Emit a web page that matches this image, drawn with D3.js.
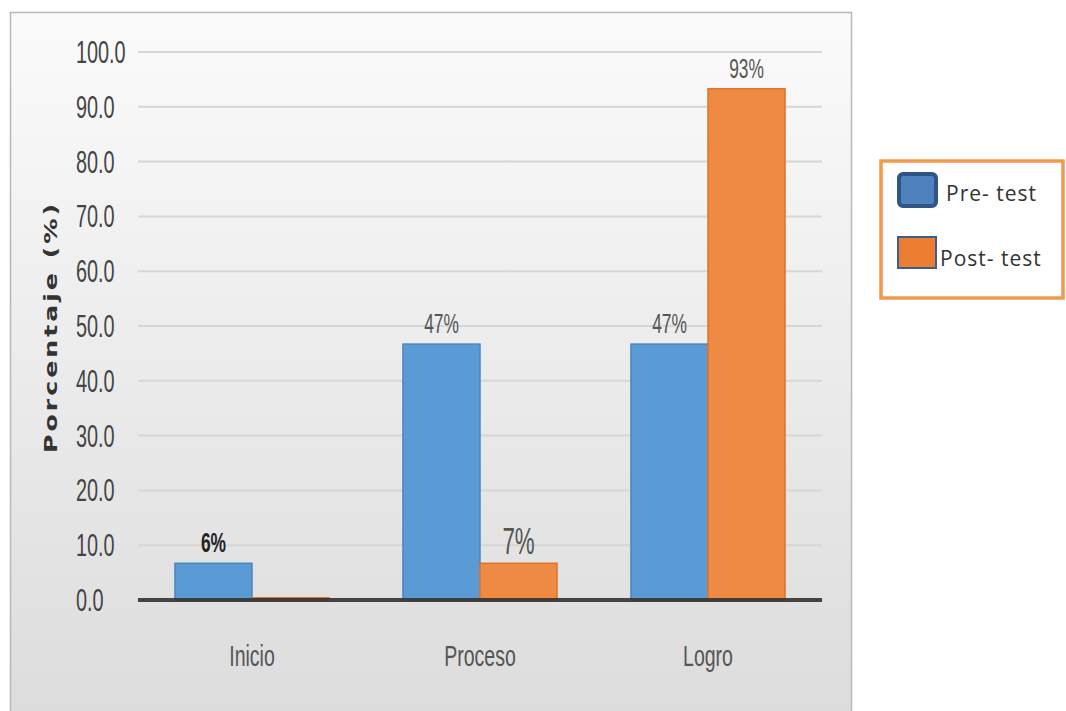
<!DOCTYPE html>
<html><head><meta charset="utf-8">
<script src="https://cdn.jsdelivr.net/npm/d3@7"></script>
<style>html,body{margin:0;padding:0;background:#fff;}svg{display:block;}</style>
</head><body>
<script>
const categories = ["Inicio", "Proceso", "Logro"];
const seriesNames = ["Pre- test", "Post- test"];
const preValues = [6.7, 46.7, 46.7];
const postValues = [0.4, 6.7, 93.3];
const preLabels = ["6%", "47%", "47%"];
const postLabels = ["", "7%", "93%"];
const yTicks = [0, 10, 20, 30, 40, 50, 60, 70, 80, 90, 100];

const W = 1066, H = 711;
const svg = d3.select("body").append("svg").attr("width", W).attr("height", H);
const defs = svg.append("defs");
const grad = defs.append("linearGradient").attr("id", "bg").attr("x1", 0).attr("y1", 0).attr("x2", 0).attr("y2", 1);
grad.append("stop").attr("offset", "0%").attr("stop-color", "#fbfbfb");
grad.append("stop").attr("offset", "100%").attr("stop-color", "#dcdcdc");

// panel
svg.append("rect").attr("x", 10.5).attr("y", 12.5).attr("width", 841).attr("height", 710)
  .attr("fill", "url(#bg)").attr("stroke", "#b8b8b8").attr("stroke-width", 1.5);

const plot = {left: 138, right: 822, top: 52, bottom: 600};
const x = d3.scaleBand().domain(categories).range([plot.left, plot.right]).paddingInner(0).paddingOuter(0);
const y = d3.scaleLinear().domain([0, 100]).range([plot.bottom, plot.top]);
const inner = d3.scaleBand().domain([0, 1]).range([0, x.bandwidth()]).paddingOuter(0.48).paddingInner(0);

// gridlines
svg.append("g").selectAll("line").data(yTicks.filter(d => d > 0)).join("line")
  .attr("x1", plot.left).attr("x2", plot.right)
  .attr("y1", d => y(d)).attr("y2", d => y(d))
  .attr("stroke", "#d6d6d6").attr("stroke-width", 2);

// y tick labels (condensed)
const fmt = d3.format(".1f");
svg.append("g").selectAll("text").data(yTicks).join("text")
  .attr("transform", d => `translate(76,${y(d) + 11}) scale(0.64,1)`)
  .attr("font-family", "Liberation Sans, Arial, sans-serif").attr("font-size", 31)
  .attr("fill", "#444").text(d => fmt(d));

// y title
svg.append("text")
  .attr("transform", `translate(57,327) rotate(-90)`)
  .attr("text-anchor", "middle")
  .attr("font-family", "DejaVu Sans, sans-serif").attr("font-weight", "bold").attr("font-size", 17)
  .attr("fill", "#333").attr("textLength", 252).attr("lengthAdjust", "spacingAndGlyphs")
  .attr("letter-spacing", 2)
  .text("Porcentaje (%)");

const colors = ["#5b9bd5", "#ee8a43"];
const strokes = ["#4a86c0", "#d9742e"];
const vals = [preValues, postValues];
const labs = [preLabels, postLabels];

[0, 1].forEach(s => {
  svg.append("g").selectAll("rect").data(categories).join("rect")
    .attr("x", (c) => x(c) + inner(s))
    .attr("width", inner.bandwidth())
    .attr("y", (c, i) => y(vals[s][i]))
    .attr("height", (c, i) => y(0) - y(vals[s][i]))
    .attr("fill", colors[s]).attr("stroke", strokes[s]).attr("stroke-width", 1.5);
});

// baseline
svg.append("line").attr("x1", plot.left).attr("x2", plot.right)
  .attr("y1", y(0)).attr("y2", y(0)).attr("stroke", "#333").attr("stroke-width", 4).attr("stroke-opacity", 0.9);

// value labels
[0, 1].forEach(s => {
  svg.append("g").selectAll("text").data(categories).join("text")
    .attr("transform", (c, i) => {
      const big = (s === 1 && i === 1);
      return `translate(${x(c) + inner(s) + inner.bandwidth() / 2},${y(vals[s][i]) - (big ? 9 : 11)}) scale(0.62,1)`;
    })
    .attr("text-anchor", "middle")
    .attr("font-family", "Liberation Sans, Arial, sans-serif")
    .attr("font-size", (c, i) => (s === 1 && i === 1) ? 36 : 28)
    .attr("fill", (c, i) => (s === 0 && i === 0) ? "#222" : "#555")
    .attr("font-weight", (c, i) => (s === 0 && i === 0) ? "bold" : "normal")
    .text((c, i) => labs[s][i]);
});

// x category labels
svg.append("g").selectAll("text").data(categories).join("text")
  .attr("transform", c => `translate(${x(c) + x.bandwidth() / 2},${666}) scale(0.65,1)`)
  .attr("text-anchor", "middle")
  .attr("font-family", "Liberation Sans, Arial, sans-serif").attr("font-size", 30)
  .attr("fill", "#555").text(c => c);

// legend
const lg = svg.append("g");
lg.append("rect").attr("x", 881).attr("y", 161).attr("width", 182).attr("height", 137)
  .attr("fill", "#fff").attr("stroke", "#f39a4a").attr("stroke-width", 3.5);
const legendItems = [
  {name: seriesNames[0], fill: "#4f81bd", stroke: "#2f5486", sx: 899, sy: 174, sw: 37, sh: 32, tx: 946, ty: 201, rx: 4},
  {name: seriesNames[1], fill: "#ed7d31", stroke: "#3b5f8a", sx: 898, sy: 237, sw: 38, sh: 31, tx: 940, ty: 266, rx: 0}
];
lg.selectAll("rect.sw").data(legendItems).join("rect").attr("class", "sw")
  .attr("x", d => d.sx).attr("y", d => d.sy).attr("width", d => d.sw).attr("height", d => d.sh)
  .attr("rx", d => d.rx).attr("fill", d => d.fill).attr("stroke", d => d.stroke).attr("stroke-width", d => d.rx ? 4 : 2);
lg.selectAll("text").data(legendItems).join("text")
  .attr("x", d => d.tx).attr("y", d => d.ty)
  .attr("font-family", "Open Sans, sans-serif").attr("font-size", 21).attr("letter-spacing", 1).attr("fill", "#333")
  .text(d => d.name);
</script>
</body></html>
